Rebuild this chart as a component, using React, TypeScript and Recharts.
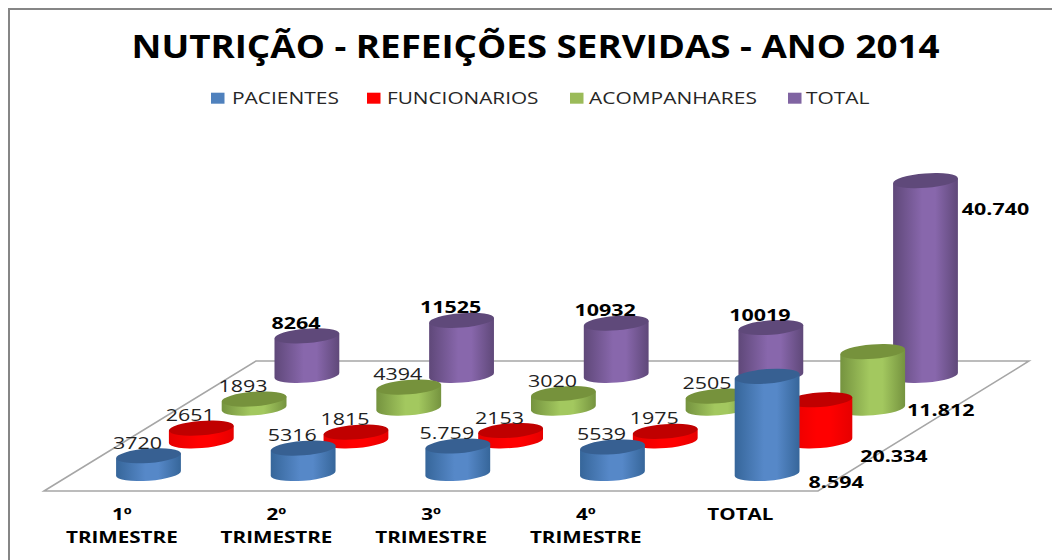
import React from "react";
import { ComposedChart, Bar, XAxis, YAxis, Legend, LabelList, Customized } from "recharts";

const CATEGORIES = ["1º TRIMESTRE", "2º TRIMESTRE", "3º TRIMESTRE", "4º TRIMESTRE", "TOTAL"];
const PACIENTES = [3720, 5316, 5759, 5539, 20334];
const FUNCIONARIOS = [2651, 1815, 2153, 1975, 8594];
const ACOMPANHARES = [1893, 4394, 3020, 2505, 11812];
const TOTAL = [8264, 11525, 10932, 10019, 40740];
const PACIENTES_LABELS = ["3720", "5316", "5.759", "5539", "8.594"];
const FUNCIONARIOS_LABELS = ["2651", "1815", "2153", "1975", "20.334"];
const ACOMPANHARES_LABELS = ["1893", "4394", "3020", "2505", "11.812"];
const TOTAL_LABELS = ["8264", "11525", "10932", "10019", "40.740"];
const TITLE = "NUTRIÇÃO - REFEIÇÕES SERVIDAS - ANO 2014";

const data = CATEGORIES.map((name, i) => ({
  name,
  pacientes: PACIENTES[i],
  funcionarios: FUNCIONARIOS[i],
  acompanhares: ACOMPANHARES[i],
  total: TOTAL[i],
  pacientesLabel: PACIENTES_LABELS[i],
  funcionariosLabel: FUNCIONARIOS_LABELS[i],
  acompanharesLabel: ACOMPANHARES_LABELS[i],
  totalLabel: TOTAL_LABELS[i],
}));

const FONT = "'Open Sans', sans-serif";
const STEP_X = 52.8;
const STEP_Y = -32.7;
const RY = 7.2;
const TILT = -4.4;

const SERIES = [
  { key: "pacientes", name: "PACIENTES", depth: 0, legend: "#4F81BD", mid: "#5688C8", edge: "#36669A", top: "#376092", legendX: 211, textX: 232, sx: 1.27 },
  { key: "funcionarios", name: "FUNCIONARIOS", depth: 1, legend: "#FF0000", mid: "#FF0000", edge: "#E60000", top: "#C00000", legendX: 367, textX: 387, sx: 1.26 },
  { key: "acompanhares", name: "ACOMPANHARES", depth: 2, legend: "#9BBB59", mid: "#A3C85F", edge: "#75933F", top: "#76923C", legendX: 570, textX: 589, sx: 1.27 },
  { key: "total", name: "TOTAL", depth: 3, legend: "#8064A2", mid: "#8867AC", edge: "#5F4879", top: "#5F497A", legendX: 788, textX: 806, sx: 1.27 },
];

// Offsets of the labels of the last category, relative to the column
const TOTAL_LABEL_SHIFT = [
  { dx: 69, fromBase: 8.5 },
  { dx: 74, fromBase: 15.5 },
  { dx: 68, fromBase: 1.5 },
  { dx: 70, fromBase: -166.5 },
];

function Backdrop() {
  return (
    <g>
      <defs>
        {SERIES.map((s) => (
          <linearGradient key={s.key} id={`cyl-${s.key}`} x1="0" y1="0" x2="1" y2="0">
            <stop offset="0" stopColor={s.edge} />
            <stop offset="0.45" stopColor={s.mid} />
            <stop offset="0.65" stopColor={s.mid} />
            <stop offset="1" stopColor={s.edge} />
          </linearGradient>
        ))}
      </defs>
      <polyline points="9,560 9,9 1052,9" fill="none" stroke="#868686" strokeWidth={2} />
      <polygon points="44,491 256,361 1029,361 818,491" fill="#fff" stroke="#A6A6A6" strokeWidth={1.5} />
      <text
        x={535.5}
        y={57.5}
        textAnchor="middle"
        textLength={808}
        lengthAdjust="spacingAndGlyphs"
        fontFamily={FONT}
        fontWeight={700}
        fontSize={31.5}
        fill="#000"
      >
        {TITLE}
      </text>
    </g>
  );
}

function makeCylinder(s: (typeof SERIES)[number]) {
  return function Cylinder(props: any) {
    const { x, y, width, height } = props;
    const rx = width / 2;
    const cx = x + rx + STEP_X * s.depth;
    const topY = y + STEP_Y * s.depth;
    const baseY = y + height + STEP_Y * s.depth;
    const rad = (TILT * Math.PI) / 180;
    const ex = rx * Math.cos(rad);
    const ey = rx * Math.sin(rad);
    const side = `M${cx - ex},${topY - ey} L${cx - ex},${baseY - ey} A${rx},${RY} ${TILT} 0 0 ${cx + ex},${baseY + ey} L${cx + ex},${topY + ey} Z`;
    return (
      <g>
        <path d={side} fill={`url(#cyl-${s.key})`} />
        <ellipse cx={cx} cy={topY} rx={rx} ry={RY} fill={s.top} transform={`rotate(${TILT} ${cx} ${topY})`} />
      </g>
    );
  };
}

function makeLabel(s: (typeof SERIES)[number]) {
  return function CylLabel(props: any) {
    const { x, y, width, height, index, value } = props;
    const cx = x + width / 2 + STEP_X * s.depth;
    const topY = y + STEP_Y * s.depth;
    const baseY = y + height + STEP_Y * s.depth;
    const last = index === 4;
    const bold = last || s.key === "total";
    const lx = last ? cx + TOTAL_LABEL_SHIFT[s.depth].dx : cx - 11;
    const ly = last ? baseY + TOTAL_LABEL_SHIFT[s.depth].fromBase : topY - 13;
    return (
      <text
        transform={`translate(${lx},${ly + 6}) scale(1.3,1)`}
        textAnchor="middle"
        fontFamily={FONT}
        fontWeight={bold ? 700 : 400}
        fontSize={16.5}
        fill={bold ? "#000" : "#222"}
      >
        {value}
      </text>
    );
  };
}

function AxisTick(props: any) {
  const { x, y, payload } = props;
  const parts = String(payload.value).split(" ");
  const tx = x - 26.5;
  return (
    <g fontFamily={FONT} fontWeight={700} fontSize={16.5} fill="#000" textAnchor="middle">
      {parts.map((p, i) => (
        <text key={p} transform={`translate(${tx},${y + 46.5 + i * 23}) scale(1.25,1)`}>
          {p}
        </text>
      ))}
    </g>
  );
}

function LegendContent() {
  return (
    <div style={{ position: "absolute", left: 0, top: 0, width: 0, height: 0 }}>
      <svg width={1052} height={130} style={{ position: "absolute", left: 0, top: 0, overflow: "visible" }}>
        {SERIES.map((s) => (
          <g key={s.key}>
            <rect x={s.legendX} y={92.7} width={13.5} height={11} fill={s.legend} />
            <text
              transform={`translate(${s.textX},103.5) scale(${s.sx},1)`}
              fontFamily={FONT}
              fontSize={16.5}
              fill="#262626"
            >
              {s.name}
            </text>
          </g>
        ))}
      </svg>
    </div>
  );
}

export default function App() {
  const ordered = [...SERIES].reverse();
  return (
    <div style={{ position: "absolute", left: 0, top: 0, width: 1052, height: 560, background: "#fff" }}>
      <ComposedChart
        width={1052}
        height={560}
        data={data}
        barSize={65}
        barGap={-65}
        margin={{ top: 234.5, right: 207.75, bottom: 26.5, left: 71 }}
      >
        <Customized component={Backdrop} />
        <XAxis
          dataKey="name"
          height={60}
          interval={0}
          axisLine={false}
          tickLine={false}
          tickSize={0}
          tickMargin={0}
          tick={<AxisTick />}
        />
        <YAxis hide domain={[0, 50000]} />
        <Legend
          content={<LegendContent />}
          wrapperStyle={{ position: "absolute", left: 0, top: 0, width: 0, height: 0, margin: 0, padding: 0 }}
        />
        {ordered.map((s) => (
          <Bar key={s.key} dataKey={s.key} name={s.name} fill={s.legend} isAnimationActive={false} shape={makeCylinder(s)}>
            <LabelList dataKey={`${s.key}Label`} content={makeLabel(s)} />
          </Bar>
        ))}
      </ComposedChart>
    </div>
  );
}
